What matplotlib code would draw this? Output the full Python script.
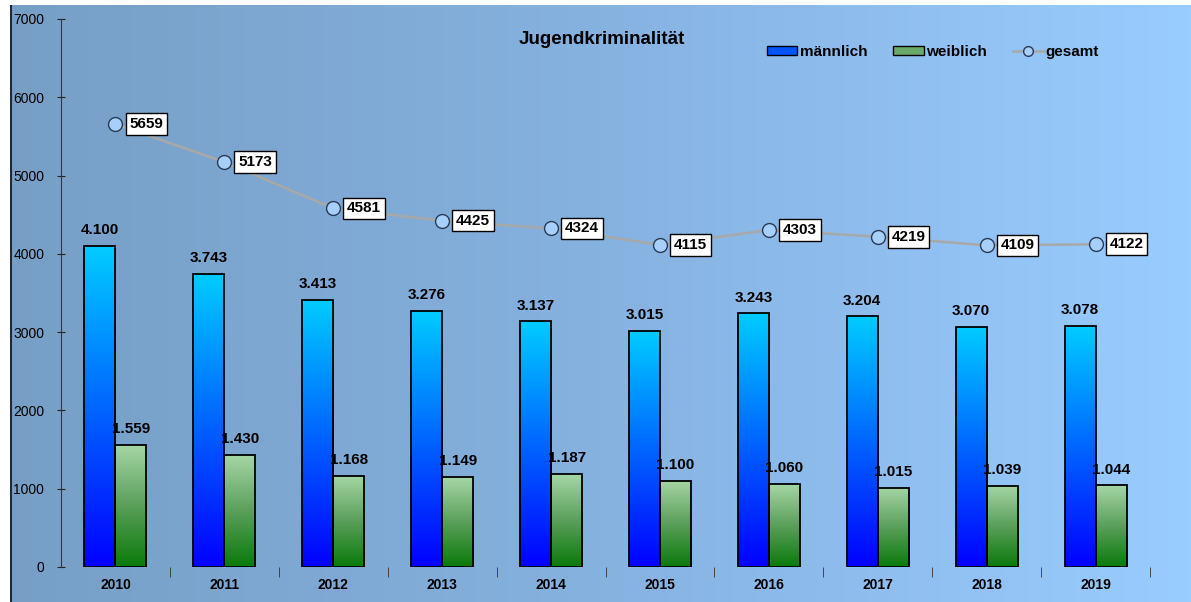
import numpy as np
import matplotlib
matplotlib.use('Agg')
import matplotlib.pyplot as plt
from matplotlib.colors import LinearSegmentedColormap
from matplotlib.lines import Line2D
from matplotlib.patches import Rectangle

plt.rcParams['font.family'] = ['Liberation Sans', 'DejaVu Sans']

jahre = ['2010', '2011', '2012', '2013', '2014', '2015', '2016', '2017', '2018', '2019']
maennlich = [4100, 3743, 3413, 3276, 3137, 3015, 3243, 3204, 3070, 3078]
weiblich = [1559, 1430, 1168, 1149, 1187, 1100, 1060, 1015, 1039, 1044]
gesamt = [5659, 5173, 4581, 4425, 4324, 4115, 4303, 4219, 4109, 4122]

W, H = 1191, 602
fig = plt.figure(figsize=(W / 100, H / 100), dpi=100)
fig.patch.set_facecolor('white')

# background gradient of the chart area
bg = fig.add_axes([10 / W, 0, 1 - 10 / W, 1 - 5 / H])
bg_cmap = LinearSegmentedColormap.from_list('bg', ['#779fc6', '#86b2e0', '#99ccff'])
bg.imshow(np.linspace(0, 1, 256).reshape(1, -1), aspect='auto', cmap=bg_cmap,
          extent=[0, 1, 0, 1])
bg.set_xlim(0, 1)
bg.set_ylim(0, 1)
bg.axis('off')
bg.axvline(0.0005, color='#1a2a3a', lw=1.5)

ax = fig.add_axes([61 / W, (H - 567) / H, (1150 - 61) / W, (567 - 19) / H])
ax.patch.set_alpha(0)
ax.set_xlim(-0.5, len(jahre) - 0.5)
ax.set_ylim(0, 7000)

blau = LinearSegmentedColormap.from_list('blau', ['#0000ff', '#0066ff', '#00ccff'])
gruen = LinearSegmentedColormap.from_list('gruen', ['#0a7a0a', '#5a9f5a', '#a6d6a6'])
grad = np.linspace(0, 1, 256).reshape(-1, 1)

bw = 0.285
x = np.arange(len(jahre))
for i in range(len(jahre)):
    for val, cmap, x0 in [(maennlich[i], blau, x[i] - bw), (weiblich[i], gruen, x[i])]:
        im = ax.imshow(grad, aspect='auto', cmap=cmap, origin='lower',
                       extent=[x0, x0 + bw, 0, val], zorder=2)
        r = Rectangle((x0, 0), bw, val, fill=False, ec='black', lw=1.3, zorder=3)
        ax.add_patch(r)
        im.set_clip_path(r)
    ax.text(x[i] - bw / 2, maennlich[i] + 110, f'{maennlich[i] / 1000:.3f}',
            ha='center', va='bottom', fontsize=11, fontweight='bold', zorder=5)
    ax.text(x[i] + bw / 2, weiblich[i] + 110, f'{weiblich[i] / 1000:.3f}',
            ha='center', va='bottom', fontsize=11, fontweight='bold', zorder=5)

ax.plot(x, gesamt, color='#a8a8a8', lw=1.8, zorder=4,
        marker='o', ms=10, mfc='#a6d0fa', mec='#2a3a55', mew=1)
for i in range(len(jahre)):
    ax.annotate(str(gesamt[i]), (x[i], gesamt[i]), xytext=(10, 0),
                textcoords='offset points', ha='left', va='center',
                fontsize=11, fontweight='bold', zorder=6,
                bbox=dict(boxstyle='square,pad=0.25', fc='white', ec='black', lw=1))

ax.set_xticks(x)
ax.set_xticklabels(jahre, fontsize=10, fontweight='bold')
ax.tick_params(axis='x', length=0, pad=8)
ax.set_xticks(np.arange(0.5, len(jahre), 1), minor=True)
ax.tick_params(axis='x', which='minor', length=7, color='#333333', direction='out')
ax.set_yticks(np.arange(0, 7001, 1000))
ax.tick_params(axis='y', labelsize=10, length=6, direction='inout', color='#222222', pad=9)
for s in ['top', 'right', 'bottom']:
    ax.spines[s].set_visible(False)
ax.spines['left'].set_color('#2a3a4a')

fig.text(602 / W, 1 - 39 / H, 'Jugendkriminalität', ha='center', va='center',
         fontsize=13.5, fontweight='bold')

handles = [
    Rectangle((0, 0), 1, 1, fc='#0055ff', ec='black'),
    Rectangle((0, 0), 1, 1, fc='#6aaa6a', ec='black'),
    Line2D([0], [0], color='#a8a8a8', lw=1.8, marker='o', ms=7, mfc='#a6d0fa', mec='#2a3a55'),
]
leg = fig.legend(handles, ['männlich', 'weiblich', 'gesamt'], loc='center',
                 bbox_to_anchor=(933 / W, 1 - 52 / H), ncol=3, frameon=False,
                 prop={'weight': 'bold', 'size': 11}, handlelength=2.0,
                 handleheight=0.45, handletextpad=0.15, columnspacing=1.7)

fig.savefig('out.png', dpi=100)
